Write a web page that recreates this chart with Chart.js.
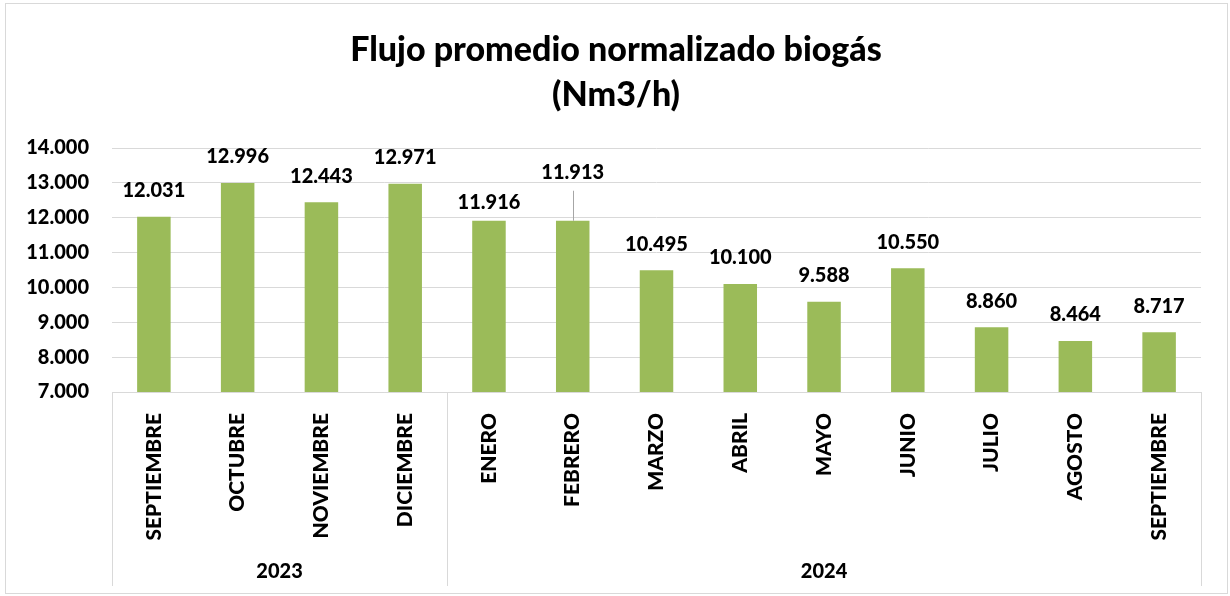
<!DOCTYPE html>
<html>
<head>
<meta charset="utf-8">
<script src="https://cdn.jsdelivr.net/npm/chart.js@4.4.1/dist/chart.umd.min.js"></script>
<style>
  html, body { margin: 0; padding: 0; background: #fff; }
  #wrap { width: 1230px; height: 596px; position: relative; }
  canvas { display: block; }
</style>
</head>
<body>
<div id="wrap"><canvas id="c" width="1230" height="596"></canvas></div>
<script>
const titleLines = ['Flujo promedio normalizado biogás', '(Nm3/h)'];
const months = ['SEPTIEMBRE', 'OCTUBRE', 'NOVIEMBRE', 'DICIEMBRE', 'ENERO', 'FEBRERO', 'MARZO', 'ABRIL', 'MAYO', 'JUNIO', 'JULIO', 'AGOSTO', 'SEPTIEMBRE'];
const years = ['2023', '2024'];
const monthsPerYear = [4, 9];
const flujo = [12031, 12996, 12443, 12971, 11916, 11913, 10495, 10100, 9588, 10550, 8860, 8464, 8717];
const yMin = 7000, yMax = 14000, yStep = 1000;

const FONT = 'Lato, "Open Sans", sans-serif';
const W = '900';
const fmt = v => Math.round(v).toString().replace(/\B(?=(\d{3})+(?!\d))/g, '.');

const decorPlugin = {
  id: 'decor',
  beforeDraw(chart) {
    const ctx = chart.ctx;
    ctx.save();
    ctx.strokeStyle = '#d9d9d9';
    ctx.lineWidth = 1;
    ctx.strokeRect(5.5, 3.5, 1222, 590);
    ctx.restore();
  },
  afterDraw(chart) {
    const ctx = chart.ctx;
    const area = chart.chartArea;
    const xs = chart.scales.x;
    const n = months.length;
    const cw = (area.right - area.left) / n;
    ctx.save();
    ctx.fillStyle = '#000';
    ctx.textAlign = 'center';
    ctx.textBaseline = 'middle';
    ctx.font = W + ' 34px ' + FONT;
    ctx.fillText(titleLines[0], 616, 50);
    ctx.fillText(titleLines[1], 616, 95);
    ctx.strokeStyle = '#d9d9d9';
    ctx.lineWidth = 1;
    const bottom = area.bottom + 194;
    let idx = 0;
    const edges = [xs.getPixelForValue(0) - cw / 2];
    years.forEach((y, g) => {
      const start = xs.getPixelForValue(idx) - cw / 2;
      idx += monthsPerYear[g];
      const end = xs.getPixelForValue(idx - 1) + cw / 2;
      edges.push(end);
      ctx.font = W + ' 20px ' + FONT;
      ctx.fillText(y, (start + end) / 2, 572);
    });
    edges.forEach(x => {
      const px = Math.round(x) + 0.5;
      ctx.beginPath();
      ctx.moveTo(px, area.bottom);
      ctx.lineTo(px, bottom);
      ctx.stroke();
    });
    ctx.restore();
  },
  afterDatasetsDraw(chart, args, opts) {
    const ctx = chart.ctx;
    const meta = chart.getDatasetMeta(0);
    const ds = chart.data.datasets[0].data;
    ctx.save();
    ctx.fillStyle = '#000';
    ctx.font = W + ' 20px ' + FONT;
    ctx.textAlign = 'center';
    ctx.textBaseline = 'middle';
    meta.data.forEach((bar, i) => {
      const off = (opts.offsets && opts.offsets[i] != null) ? opts.offsets[i] : opts.offset;
      const ty = bar.y - off;
      if (opts.leaders && opts.leaders.includes(i)) {
        ctx.strokeStyle = '#a6a6a6';
        ctx.lineWidth = 1;
        ctx.beginPath();
        ctx.moveTo(Math.round(bar.x) + 0.5, ty + 18);
        ctx.lineTo(Math.round(bar.x) + 0.5, bar.y);
        ctx.stroke();
      }
      ctx.fillText(fmt(ds[i]), bar.x, ty);
    });
    ctx.restore();
  }
};

new Chart(document.getElementById('c'), {
  type: 'bar',
  data: {
    labels: months,
    datasets: [{
      data: flujo,
      backgroundColor: '#9bbb59',
      borderWidth: 0,
      barPercentage: 0.4,
      categoryPercentage: 1.0
    }]
  },
  options: {
    responsive: false,
    animation: false,
    devicePixelRatio: 1,
    layout: { padding: { top: 148, left: 0, right: 29, bottom: 10 } },
    plugins: {
      legend: { display: false },
      title: { display: false },
      tooltip: { enabled: false },
      decor: { offset: 26, offsets: { 4: 18, 5: 48 }, leaders: [5] }
    },
    scales: {
      x: {
        type: 'category',
        grid: { display: false, drawTicks: false },
        border: { display: true, color: '#d9d9d9', width: 1 },
        ticks: {
          autoSkip: false,
          minRotation: 90,
          maxRotation: 90,
          padding: 21,
          color: '#000',
          font: { family: FONT, size: 21, weight: W }
        },
        afterFit(scale) { scale.height = 194; }
      },
      y: {
        min: yMin,
        max: yMax,
        grid: { color: '#d9d9d9', lineWidth: 1, drawTicks: false },
        border: { display: false },
        ticks: {
          stepSize: yStep,
          padding: 23,
          color: '#000',
          font: { family: FONT, size: 20, weight: W },
          callback: v => fmt(v)
        },
        afterFit(scale) { scale.width = 112; }
      }
    }
  },
  plugins: [decorPlugin]
});
</script>
</body>
</html>
